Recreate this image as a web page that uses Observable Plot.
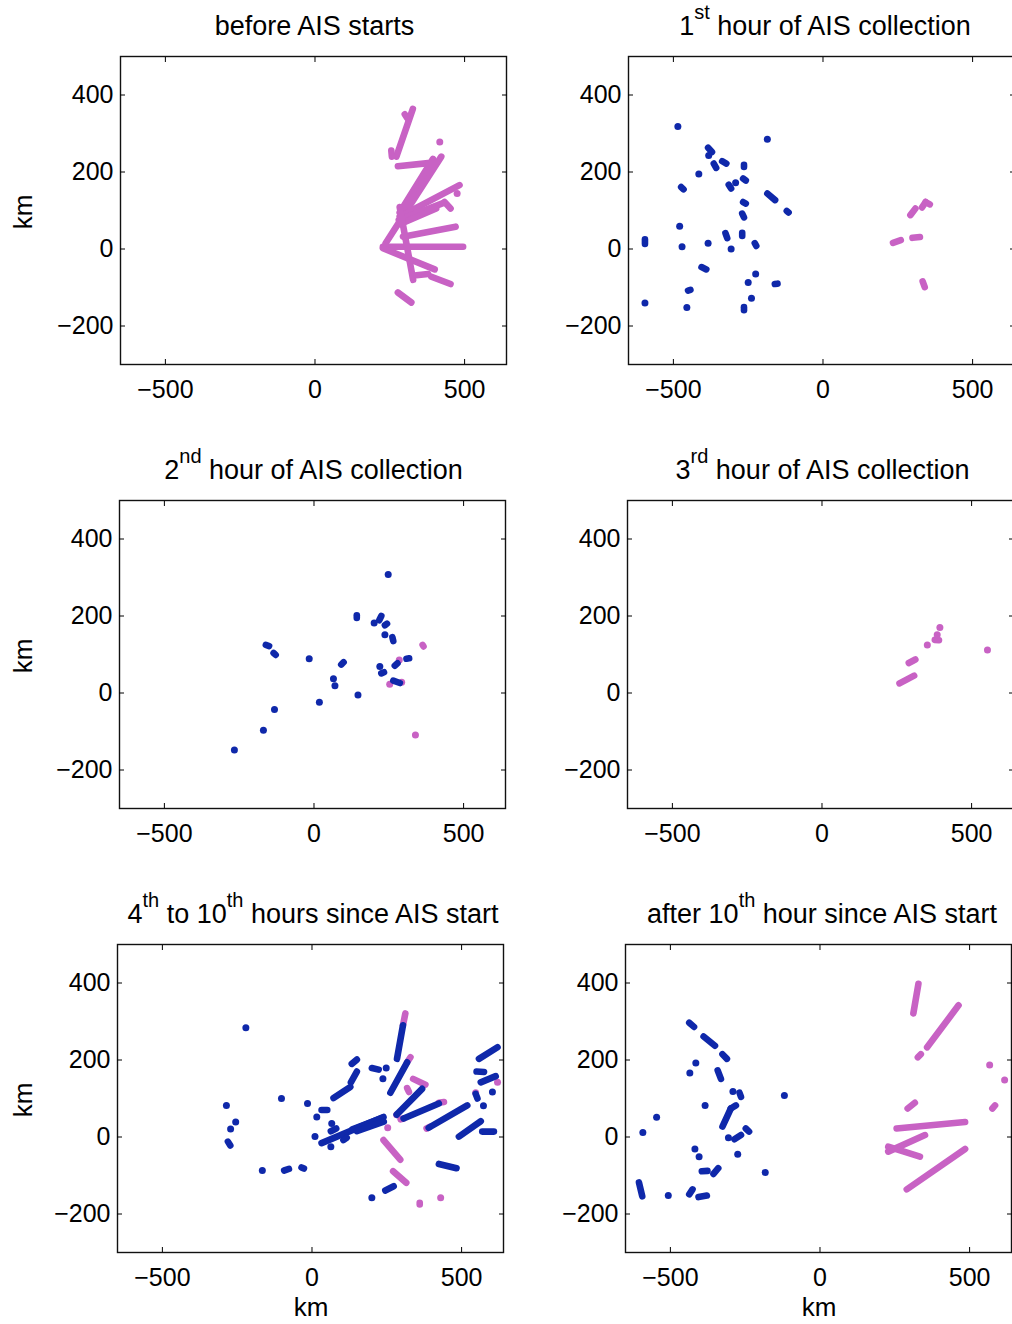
<!DOCTYPE html>
<html><head><meta charset="utf-8">
<script src="https://cdn.jsdelivr.net/npm/d3@7"></script>
<script src="https://cdn.jsdelivr.net/npm/@observablehq/plot@0.6"></script>
<style>
body{margin:0;background:#fff;}
#wrap{position:relative;width:1012px;height:1324px;overflow:hidden;font-family:"Liberation Sans",Arial,Helvetica,sans-serif;color:#000;background:#fff;}
.panel{position:absolute;}
.title{position:absolute;font-size:27px;line-height:27px;white-space:nowrap;transform:translateX(-50%);}
.title sup{font-size:20px;line-height:0;vertical-align:0;position:relative;top:-16px;}
.ylab{position:absolute;font-size:26px;line-height:26px;white-space:nowrap;transform:translate(-50%,-50%) rotate(-90deg);}
.xlab{position:absolute;font-size:26px;line-height:26px;white-space:nowrap;transform:translateX(-50%);}
</style>
</head><body>
<div id="wrap"></div>
<script>
// ---------- tick values ----------
const xTicks = [-500, 0, 500];
const yTicks = [-200, 0, 200, 400];
const xDomain = [-650, 640];
const yDomain = [-300, 500];

// ---------- titles ----------
const titles = [
  "before AIS starts",
  "1<sup>st</sup> hour of AIS collection",
  "2<sup>nd</sup> hour of AIS collection",
  "3<sup>rd</sup> hour of AIS collection",
  "4<sup>th</sup> to 10<sup>th</sup> hours since AIS start",
  "after 10<sup>th</sup> hour since AIS start"
];

// ---------- data (km): segments [x1,y1,x2,y2], points [x,y] ----------
// Panel 1: before AIS starts
const p1MagSegs = [
  [272,240,327,364],[255,256,257,240],[300,350,308,340],
  [277,215,378,223],[422,240,236,15],[394,234,283,95],
  [483,166,283,84],[433,122,453,105],[280,75,430,120],[285,65,405,105],
  [470,58,294,32],[495,6,227,6],[227,2,400,-53],[283,109,328,-80],
  [389,-72,453,-91],[339,-68,378,-65],[277,-113,322,-139]
];
const p1MagDots = [[417,278],[475,144]];
const p1BlueSegs = [];
const p1BlueDots = [];

// Panel 2: 1st hour
const p2BlueSegs = [
  [-384,263,-371,252],[-365,222,-357,211],[-337,228,-323,222],[-264,219,-264,213],
  [-474,161,-466,155],[-267,183,-258,178],[-315,167,-307,157],[-186,144,-160,127],
  [-267,122,-258,118],[-121,99,-115,95],[-270,92,-264,82],[-326,41,-320,28],
  [-270,42,-270,34],[-595,25,-595,13],[-228,15,-223,8],[-406,-47,-390,-53],
  [-161,-91,-152,-90],[-451,-108,-443,-106],[-264,-151,-264,-159]
];
const p2BlueDots = [
  [-485,318],[-186,285],[-382,243],[-415,195],[-292,172],[-479,59],[-471,6],
  [-384,15],[-307,0],[-225,-65],[-250,-87],[-239,-128],[-595,-140],[-455,-152]
];
const p2MagSegs = [
  [234,16,260,23],[299,29,324,31],[292,88,309,105],[331,108,343,122],
  [343,122,357,116],[333,-84,340,-99]
];
const p2MagDots = [];

// Panel 3: 2nd hour
const p3BlueSegs = [
  [143,202,143,195],[218,189,225,200],[237,176,244,180],[262,145,265,135],
  [-161,125,-150,122],[-135,104,-128,99],[91,74,99,80],[309,89,318,90],
  [270,71,279,77],[225,51,234,54],[265,32,287,26]
];
const p3BlueDots = [
  [248,308],[201,182],[237,151],[-16,89],[220,69],[65,37],[70,19],
  [147,-5],[18,-24],[-132,-43],[-169,-97],[-266,-148]
];
const p3MagSegs = [[363,125,366,121]];
const p3MagDots = [[285,86],[253,23],[293,28],[339,-109]];

// Panel 4: 3rd hour
const p4BlueSegs = [];
const p4BlueDots = [];
const p4MagSegs = [[259,25,308,45],[290,78,312,87],[377,138,391,137]];
const p4MagDots = [[352,125],[385,151],[394,170],[553,112]];

// Panel 5: 4th to 10th hours
const p5BlueSegs = [
  [-281,-12,-273,-22],[-93,-87,-77,-83],[-35,-79,-27,-82],[32,70,51,70],
  [63,15,81,22],[32,-16,239,52],[135,20,235,50],[150,15,240,40],
  [105,-8,116,-2],[72,101,128,130],[130,142,150,170],[133,190,150,201],
  [200,179,223,175],[284,203,304,290],[262,115,318,194],[283,58,368,125],
  [306,48,424,87],[390,24,519,82],[491,1,564,41],[558,203,620,233],
  [550,170,575,169],[564,142,614,158],[547,112,553,100],[569,14,608,14],
  [424,-70,483,-81],[245,-139,273,-128]
];
const p5BlueDots = [
  [-221,284],[-286,82],[-255,39],[-272,21],[-102,100],[-15,87],[-166,-87],
  [10,1],[16,52],[66,35],[63,-25],[237,151],[248,179],[603,117],[573,81],[200,-158]
];
const p5MagSegs = [
  [304,290,312,321],[318,194,329,207],[239,-8,295,-59],[271,-89,315,-119],
  [360,-171,360,-175],[338,151,379,136],[318,127,324,117],[424,89,441,91],
  [383,22,395,27],[296,46,306,48]
];
const p5MagDots = [[430,-158],[253,24],[620,142],[547,115],[283,58]];

// Panel 6: after 10th hour
const p6BlueSegs = [
  [-437,297,-421,286],[-389,261,-351,237],[-326,215,-311,203],[-342,173,-331,151],
  [-269,115,-264,104],[-326,27,-298,74],[-298,74,-281,82],[-286,-6,-264,5],
  [-248,22,-237,14],[-395,-89,-376,-88],[-356,-96,-340,-81],[-605,-118,-594,-154],
  [-437,-149,-426,-136],[-406,-156,-378,-152]
];
const p6BlueDots = [
  [-415,192],[-435,166],[-291,118],[-119,108],[-384,82],[-546,51],[-592,12],
  [-306,-2],[-275,-45],[-183,-92],[-507,-152],[-418,-31],[-404,-51]
];
const p6MagSegs = [
  [312,321,329,398],[358,233,463,342],[327,207,337,215],[293,74,317,89],
  [256,22,485,39],[228,-38,351,5],[228,-25,334,-51],[290,-136,485,-31],[576,74,585,82]
];
const p6MagDots = [[567,187],[617,148]];

// ---------- layout ----------
const BLUE = "#0f28aa", MAG = "#c862c4";
const FW = 386, FH = 308, ML = 110, MT = 10, MR = 10, MB = 50;
const frames = [ // frame left, top
  [120, 55.7], [628.3, 55.7],
  [119, 500], [627.3, 500],
  [117, 943.5], [625, 943.5]
];
const titleX = [314.5, 825, 313.5, 822.5, 313, 822];
const panels = [
  [p1BlueSegs, p1BlueDots, p1MagSegs, p1MagDots],
  [p2BlueSegs, p2BlueDots, p2MagSegs, p2MagDots],
  [p3BlueSegs, p3BlueDots, p3MagSegs, p3MagDots],
  [p4BlueSegs, p4BlueDots, p4MagSegs, p4MagDots],
  [p5BlueSegs, p5BlueDots, p5MagSegs, p5MagDots],
  [p6BlueSegs, p6BlueDots, p6MagSegs, p6MagDots]
];

const toSegs = a => a.map(([x1,y1,x2,y2]) => ({x1,y1,x2,y2}));
const toPts = a => a.map(([x,y]) => ({x,y}));

const wrap = document.getElementById("wrap");

panels.forEach(([bs, bd, ms, md], i) => {
  const [fl, ft] = frames[i];
  const chart = Plot.plot({
    width: ML + FW + MR,
    height: MT + FH + MB,
    marginLeft: ML, marginTop: MT, marginRight: MR, marginBottom: MB,
    style: {fontFamily: "Liberation Sans, Arial, Helvetica, sans-serif", fontSize: "25px", background: "transparent", maxWidth: "none", overflow: "visible", color: "#000"},
    x: {domain: xDomain},
    y: {domain: yDomain},
    marks: [
      Plot.link(toSegs(ms), {x1: "x1", y1: "y1", x2: "x2", y2: "y2", stroke: MAG, strokeWidth: 6.6, strokeLinecap: "round"}),
      Plot.dot(toPts(md), {x: "x", y: "y", r: 3.5, fill: MAG}),
      Plot.link(toSegs(bs), {x1: "x1", y1: "y1", x2: "x2", y2: "y2", stroke: BLUE, strokeWidth: 6.6, strokeLinecap: "round"}),
      Plot.dot(toPts(bd), {x: "x", y: "y", r: 3.5, fill: BLUE}),
      Plot.frame({stroke: "#111", strokeWidth: 1.4}),
      Plot.axisX({ticks: xTicks, anchor: "bottom", tickSize: -5, tickPadding: 21, label: null, fontSize: 25}),
      Plot.axisX({ticks: xTicks, anchor: "top", tickSize: -5, tickFormat: () => "", label: null}),
      Plot.axisY({ticks: yTicks, anchor: "left", tickSize: -5, tickPadding: 12, label: null, fontSize: 25}),
      Plot.axisY({ticks: yTicks, anchor: "right", tickSize: -5, tickFormat: () => "", label: null})
    ]
  });
  const div = document.createElement("div");
  div.className = "panel";
  div.style.left = (fl - ML) + "px";
  div.style.top = (ft - MT) + "px";
  div.style.width = (ML + FW + MR) + "px";
  div.appendChild(chart);
  wrap.appendChild(div);

  // title (baseline ~ 20px above frame top)
  const t = document.createElement("div");
  t.className = "title";
  t.innerHTML = titles[i];
  t.style.left = titleX[i] + "px";
  t.style.top = (ft - 20 - 22.9) + "px";
  wrap.appendChild(t);

  // y label on left column
  if (i % 2 === 0) {
    const yl = document.createElement("div");
    yl.className = "ylab";
    yl.textContent = "km";
    yl.style.left = "23px";
    yl.style.top = (ft + FH / 2 + 2) + "px";
    wrap.appendChild(yl);
  }
  // x label on bottom row
  if (i >= 4) {
    const xl = document.createElement("div");
    xl.className = "xlab";
    xl.textContent = "km";
    xl.style.left = (fl + 194) + "px";
    xl.style.top = (1316 - 22) + "px";
    wrap.appendChild(xl);
  }
});
</script>
</body></html>
